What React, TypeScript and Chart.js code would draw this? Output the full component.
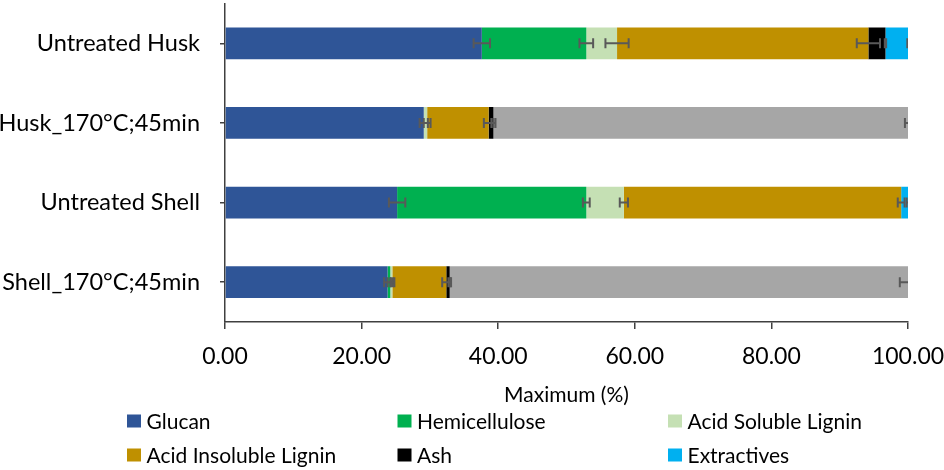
import React, { useEffect, useRef } from 'react';
import { Chart, registerables } from 'chart.js';

Chart.register(...registerables);

// ---- data ----
const categories = ['Untreated Husk', 'Husk_170°C;45min', 'Untreated Shell', 'Shell_170°C;45min'];
const glucan = [37.6, 29.1, 25.2, 23.8];
const hemicellulose = [15.3, 0, 27.7, 0.4];
const acidSolubleLignin = [4.5, 0.5, 5.5, 0.3];
const acidInsolubleLignin = [36.8, 9.0, 40.6, 7.9];
const ash = [2.5, 0.7, 0, 0.5];
const extractives = [3.3, 0, 1.0, 0];
const other = [0, 60.7, 0, 67.1];

const glucanErr = [1.2, 0.6, 1.2, 0.5];
const hemicelluloseErr = [1.0, 0, 0.5, 0.4];
const acidSolubleLigninErr = [1.7, 0.5, 0.6, 0.3];
const acidInsolubleLigninErr = [1.7, 0.7, 0.5, 0.6];
const ashErr = [0.1, 0.3, 0, 0.2];
const extractivesErr = [0.1, 0, 0.2, 0];
const otherErr = [0, 0.45, 0, 1.2];

const xTickValues = [0, 20, 40, 60, 80, 100];
const axisTitle = 'Maximum (%)';

export default function App() {
  const ref = useRef<HTMLCanvasElement>(null);

  useEffect(() => {
    if (!ref.current) return;
    const FONT = 'Lato, "Open Sans", sans-serif';

    const series = [
      { label: 'Glucan', data: glucan, err: glucanErr, color: '#2F5597', legend: true },
      { label: 'Hemicellulose', data: hemicellulose, err: hemicelluloseErr, color: '#00B050', legend: true },
      { label: 'Acid Soluble Lignin', data: acidSolubleLignin, err: acidSolubleLigninErr, color: '#C5E0B4', legend: true },
      { label: 'Acid Insoluble Lignin', data: acidInsolubleLignin, err: acidInsolubleLigninErr, color: '#BF9000', legend: true },
      { label: 'Ash', data: ash, err: ashErr, color: '#000000', legend: true },
      { label: 'Extractives', data: extractives, err: extractivesErr, color: '#00B0F0', legend: true },
      { label: 'Other', data: other, err: otherErr, color: '#A6A6A6', legend: false },
    ];

    const datasets = series.map((s) => ({
      label: s.label,
      data: s.data,
      backgroundColor: s.color,
      borderWidth: 0,
      barPercentage: 0.4,
      categoryPercentage: 1.0,
      errors: s.err,
      showInLegend: s.legend,
    }));

    const errorPlugin = {
      id: 'errorBars',
      afterDatasetsDraw(chart: any) {
        const { ctx, chartArea } = chart;
        const xs = chart.scales.x;
        const ppu = (xs.getPixelForValue(100) - xs.getPixelForValue(0)) / 100;
        ctx.save();
        ctx.beginPath();
        ctx.rect(chartArea.left, chartArea.top - 10, chartArea.right - chartArea.left, chartArea.bottom - chartArea.top + 20);
        ctx.clip();
        ctx.strokeStyle = '#595959';
        ctx.lineWidth = 2;
        chart.data.datasets.forEach((ds: any, i: number) => {
          const meta = chart.getDatasetMeta(i);
          meta.data.forEach((el: any, j: number) => {
            const v = ds.data[j];
            const e = ds.errors ? ds.errors[j] : 0;
            if (!v || !e) return;
            const x1 = el.x - e * ppu;
            const x2 = el.x + e * ppu;
            const y = el.y;
            const h = 5;
            ctx.beginPath();
            ctx.moveTo(x1, y);
            ctx.lineTo(x2, y);
            ctx.moveTo(x1, y - h);
            ctx.lineTo(x1, y + h);
            ctx.moveTo(x2, y - h);
            ctx.lineTo(x2, y + h);
            ctx.stroke();
          });
        });
        ctx.restore();
      },
    };

    const legendPlugin = {
      id: 'gridLegend',
      afterDraw(chart: any) {
        const { ctx } = chart;
        ctx.save();
        ctx.font = `21px ${FONT}`;
        ctx.textBaseline = 'middle';
        ctx.textAlign = 'left';
        let k = 0;
        chart.data.datasets.forEach((ds: any) => {
          if (!ds.showInLegend) return;
          const col = k % 3;
          const row = Math.floor(k / 3);
          const bx = 127 + col * 270.5;
          const cy = 421 + row * 34;
          ctx.fillStyle = ds.backgroundColor;
          ctx.fillRect(bx, cy - 6.5, 14, 13);
          ctx.fillStyle = '#000';
          ctx.fillText(ds.label, bx + 19.5, cy + 1);
          k++;
        });
        ctx.restore();
      },
    };

    const chart = new Chart(ref.current, {
      type: 'bar',
      data: { labels: categories, datasets: datasets as any },
      options: {
        indexAxis: 'y',
        responsive: false,
        animation: false,
        layout: { padding: { left: 0, right: 36, top: 3.5, bottom: 62 } },
        plugins: {
          legend: { display: false },
          tooltip: { enabled: false },
        },
        scales: {
          x: {
            type: 'linear',
            stacked: true,
            min: 0,
            max: 100,
            afterBuildTicks(scale: any) {
              scale.ticks = xTickValues.map((v) => ({ value: v }));
            },
            afterFit(scale: any) {
              scale.height = 86;
              scale.paddingLeft = 0;
              scale.paddingRight = 0;
            },
            border: { display: true, color: '#404040', width: 1.5 },
            grid: { drawOnChartArea: false, drawTicks: true, tickLength: 7, color: '#404040', lineWidth: 1.5 },
            ticks: {
              color: '#000',
              font: { family: FONT, size: 23 },
              padding: 14,
              maxRotation: 0,
              callback: (v: any) => Number(v).toFixed(2),
            },
            title: {
              display: true,
              text: axisTitle,
              color: '#000',
              font: { family: FONT, size: 21 },
              padding: { top: 0, bottom: 0 },
            },
          },
          y: {
            type: 'category',
            stacked: true,
            afterFit(scale: any) {
              scale.width = 225;
              scale.paddingTop = 0;
              scale.paddingBottom = 0;
            },
            border: { display: true, color: '#404040', width: 1.5 },
            grid: { drawOnChartArea: false, drawTicks: true, tickLength: 5, offset: false, color: '#404040', lineWidth: 1.5 },
            ticks: {
              color: '#000',
              font: { family: FONT, size: 23.5 },
              padding: 20,
            },
          },
        },
      } as any,
      plugins: [errorPlugin, legendPlugin],
    });
    return () => chart.destroy();
  }, []);

  return (
    <div style={{ position: 'fixed', left: 0, top: 0, width: 944, height: 470, background: '#fff' }}>
      <canvas ref={ref} width={944} height={470} style={{ width: 944, height: 470, display: 'block' }} />
    </div>
  );
}
